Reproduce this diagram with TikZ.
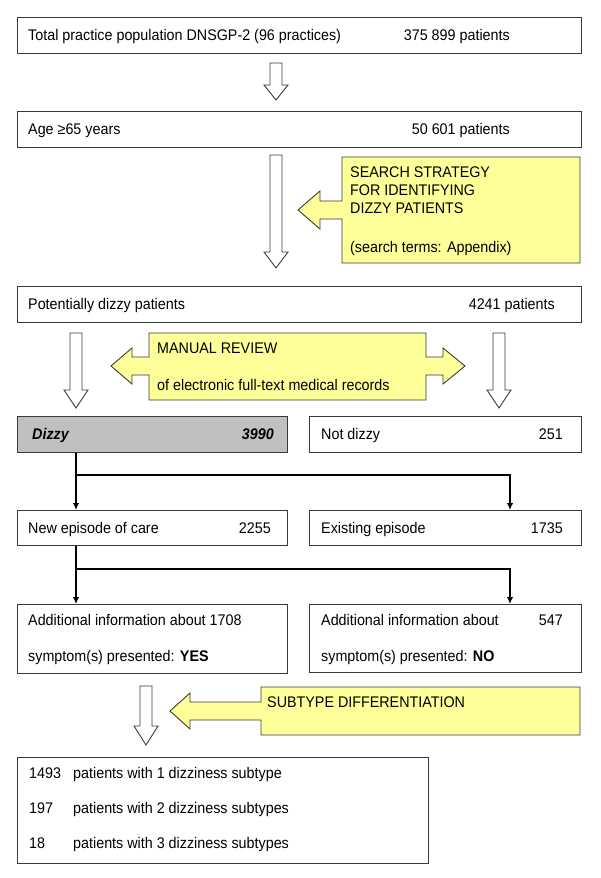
\documentclass[tikz,border=0pt]{standalone}
\usepackage{fontspec}
\setmainfont{Liberation Sans}[FakeStretch=0.93]
\usetikzlibrary{arrows.meta}
\definecolor{bd}{HTML}{3A3A3A}
\definecolor{yel}{HTML}{FFFF99}
\definecolor{dgray}{HTML}{C0C0C0}
\begin{document}
\begin{tikzpicture}[x=1pt,y=-1pt,
  font=\fontsize{15.4}{18}\selectfont,
  box/.style={draw=bd, line width=1pt, fill=white, inner sep=0pt, anchor=north west},
  txt/.style={inner sep=0pt, anchor=base west},
  rtxt/.style={inner sep=0pt, anchor=base east},
  blk/.style={draw=bd, line width=0.9pt, fill=white, line join=miter},
  call/.style={draw=bd, line width=0.9pt, fill=yel, line join=miter},
  arr/.style={draw=black, line width=1.5pt, -{Latex[length=7pt,width=6.5pt]}}]
\useasboundingbox (0,0) rectangle (600,878);

% boxes
\node[box, minimum width=564pt, minimum height=36pt] (b1) at (17,17) {};
\node[box, minimum width=564pt, minimum height=36pt] (b2) at (17,111) {};
\node[box, minimum width=564pt, minimum height=36pt] (b3) at (17,286) {};
\node[box, fill=dgray, minimum width=270pt, minimum height=36pt] (dz) at (17,416) {};
\node[box, minimum width=272pt, minimum height=36pt] (nd) at (309,416) {};
\node[box, minimum width=270pt, minimum height=35pt] (ne) at (17,510) {};
\node[box, minimum width=272pt, minimum height=35pt] (ex) at (309,510) {};
\node[box, minimum width=270pt, minimum height=69pt] (ay) at (17,604) {};
\node[box, minimum width=272pt, minimum height=68pt] (an) at (309,604) {};
\node[box, minimum width=411pt, minimum height=106pt] (bt) at (17,757) {};

% texts
\node[txt] (t1) at (28,40) {Total practice population DNSGP-2 (96 practices)};
\node[rtxt] (n1) at (510,40) {375 899 patients};
\node[txt] (t2) at (28,134) {Age ≥65 years};
\node[rtxt] (n2) at (510,134) {50 601 patients};
\node[txt] (t3) at (28,309) {Potentially dizzy patients};
\node[rtxt] (n3) at (555,309) {4241 patients};
\node[txt] (t4) at (32,439) {\textbf{\textit{Dizzy}}};
\node[rtxt] (n4) at (274,439) {\textbf{\textit{3990}}};
\node[txt] (t5) at (321,439) {Not dizzy};
\node[rtxt] (n5) at (563,439) {251};
\node[txt] (t6) at (28,533) {New episode of care};
\node[rtxt] (n6) at (271,533) {2255};
\node[txt] (t7) at (321,533) {Existing episode};
\node[rtxt] (n7) at (563,533) {1735};
\node[txt] (t8) at (28,625) {Additional information about 1708};
\node[txt] (t8b) at (28,661) {symptom(s) presented: \textbf{YES}};
\node[txt] (t9) at (321,625) {Additional information about};
\node[rtxt] (n9) at (563,625) {547};
\node[txt] (t9b) at (321,661) {symptom(s) presented: \textbf{NO}};
\node[txt] (s1n) at (29,778) {1493};
\node[txt] (s1t) at (73,778) {patients with 1 dizziness subtype};
\node[txt] (s2n) at (29,813) {197};
\node[txt] (s2t) at (73,813) {patients with 2 dizziness subtypes};
\node[txt] (s3n) at (29,848) {18};
\node[txt] (s3t) at (73,848) {patients with 3 dizziness subtypes};

% hollow block arrows
\draw[blk] (270,63) -- (282,63) -- (282,85) -- (288,85) -- (276,100) -- (264,85) -- (270,85) -- cycle;
\draw[blk] (270,155) -- (282,155) -- (282,252) -- (288,252) -- (276,268) -- (264,252) -- (270,252) -- cycle;
\draw[blk] (70,333) -- (82,333) -- (82,390) -- (88,390) -- (76,408) -- (64,390) -- (70,390) -- cycle;
\draw[blk] (493,333) -- (505,333) -- (505,390) -- (511,390) -- (499,408) -- (487,390) -- (493,390) -- cycle;
\draw[blk] (140,686) -- (152,686) -- (152,726) -- (158,726) -- (146,745) -- (134,726) -- (140,726) -- cycle;

% callouts
\draw[call] (342,157) -- (580,157) -- (580,263) -- (342,263) -- (342,219) -- (320,219) -- (320,229) -- (298,210) -- (320,191) -- (320,201) -- (342,201) -- cycle;
\node[txt] (c1a) at (350,177) {SEARCH STRATEGY};
\node[txt] (c1b) at (350,195) {FOR IDENTIFYING};
\node[txt] (c1c) at (350,213) {DIZZY PATIENTS};
\node[txt] (c1d) at (350,252) {(search terms: Appendix)};

\draw[call] (149,333) -- (426,333) -- (426,357) -- (443,357) -- (443,348) -- (465,366) -- (443,384) -- (443,375) -- (426,375) -- (426,400) -- (149,400) -- (149,375) -- (132,375) -- (132,384) -- (111,366) -- (132,348) -- (132,357) -- (149,357) -- cycle;
\node[txt] (c2a) at (157,353) {MANUAL REVIEW};
\node[txt] (c2b) at (157,390) {of electronic full-text medical records};

\draw[call] (261,687) -- (580,687) -- (580,735) -- (261,735) -- (261,720) -- (190,720) -- (190,729) -- (170,711) -- (190,693) -- (190,702) -- (261,702) -- cycle;
\node[txt] (c3a) at (267,707) {SUBTYPE DIFFERENTIATION};

% connectors
\coordinate (j1) at (76,475);
\coordinate (j2) at (76,569);
\draw[arr] (j1 |- dz.south) -- (j1 |- ne.north);
\draw[arr] (j1) -| ([xshift=201pt]ex.north west);
\draw[arr] (j2 |- ne.south) -- (j2 |- ay.north);
\draw[arr] (j2) -| ([xshift=201pt]an.north west);
\end{tikzpicture}
\end{document}
